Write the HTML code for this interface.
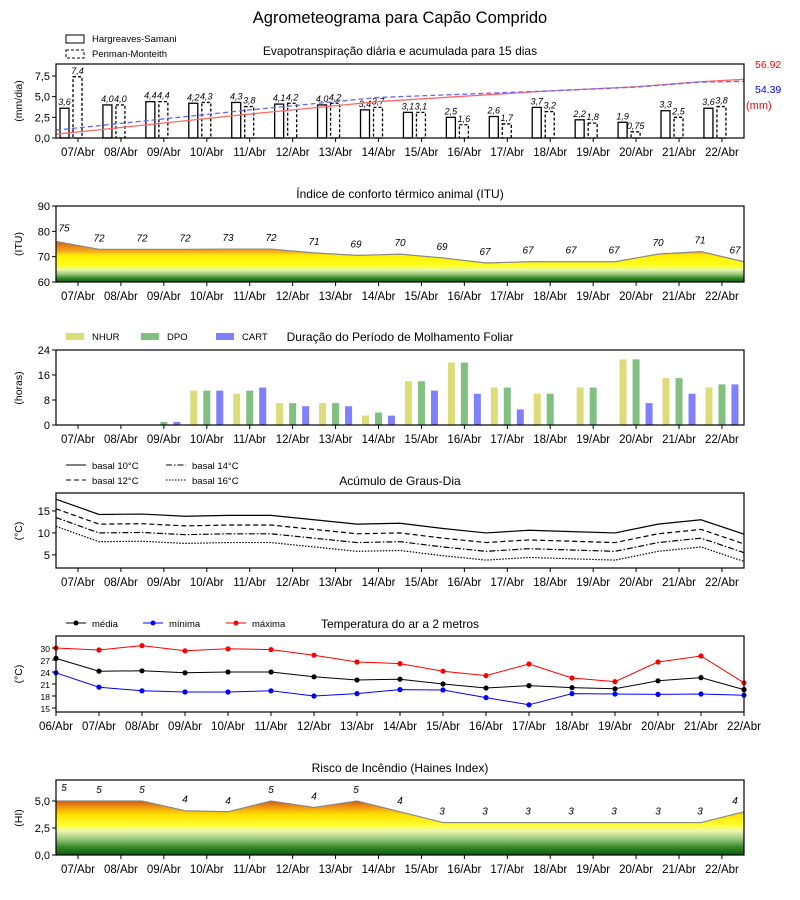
<!DOCTYPE html>
<html><head><meta charset="utf-8"><style>body{margin:0;background:#fff}svg{display:block;font-family:"Liberation Sans","DejaVu Sans",sans-serif}</style></head>
<body><svg id="s" width="800" height="900" xmlns="http://www.w3.org/2000/svg"></svg>
<script>
const S=document.getElementById('s');let h='';
const X0=56,X1=744;
const ticks=[];for(let i=0;i<16;i++)ticks.push(78+i*42.93);
const dates=[];for(let i=7;i<=22;i++)dates.push((i<10?'0':'')+i+'/Abr');
const px=i=>56+43*i;
function t(x,y,s,o={}){h+=`<text x="${x}" y="${y}" font-size="${o.fs||11}" text-anchor="${o.a||'middle'}" fill="${o.c||'#000'}" ${o.it?'font-style="italic"':''} ${o.tr?`transform="${o.tr}"`:''}>${s}</text>`;}
function frame(y0,y1){h+=`<rect x="${X0}" y="${y0}" width="${X1-X0}" height="${y1-y0}" fill="none" stroke="#000" stroke-width="1.2"/>`;}
function xt(y1,pos,labs){pos.forEach((x,i)=>{h+=`<line x1="${x}" y1="${y1}" x2="${x}" y2="${y1+4}" stroke="#000"/>`;t(x,y1+18,labs[i],{fs:11.5});});}
function yt(y0,y1,v0,v1,vals,fmt,fs){vals.forEach(v=>{const y=y1-(v-v0)/(v1-v0)*(y1-y0);h+=`<line x1="${X0-4}" y1="${y}" x2="${X0}" y2="${y}" stroke="#000"/>`;t(X0-6,y+4,fmt(v),{a:'end',fs:fs||11});});}
function yl(y,s){t(22,y,s,{fs:10.5,tr:`rotate(-90 22 ${y})`});}
function poly(pts,st){return `<polyline points="${pts.map(p=>p.join(',')).join(' ')}" fill="none" ${st}/>`;}
t(400,23,'Agrometeograma para Capão Comprido',{fs:16.5});
// Panel 1
{const y0=64,y1=138,vm=8.95,Y=v=>y1-v/vm*(y1-y0);
const hs=[3.6,4.0,4.4,4.2,4.3,4.1,4.0,3.4,3.1,2.5,2.6,3.7,2.2,1.9,3.3,3.6],pm=[7.4,4.0,4.4,4.3,3.8,4.2,4.2,3.7,3.1,1.6,1.7,3.2,1.8,0.75,2.5,3.8];
const f=v=>String(v).replace('.',',');
t(400,55,'Evapotranspiração diária e acumulada para 15 dias',{fs:12});
ticks.forEach((x,i)=>{h+=`<rect x="${x-18}" y="${Y(hs[i])}" width="9" height="${y1-Y(hs[i])}" fill="#fff" stroke="#000" stroke-width="1.3"/>`;
h+=`<rect x="${x-5}" y="${Y(pm[i])}" width="9" height="${y1-Y(pm[i])}" fill="#fff" stroke="#000" stroke-width="1.3" stroke-dasharray="3,2"/>`;
t(x-13.5,Y(hs[i])-3,f(hs[i].toFixed(1)),{fs:9,it:1});t(x-0.5,Y(pm[i])-3,f(pm[i]==0.75?'0.75':pm[i].toFixed(1)),{fs:9,it:1});});
const r=[[56,0.45],[250,2.9],[378,4.4],[550,5.7],[636,6.2],[700,6.8],[744,7.1]].map(p=>[p[0],Y(p[1])]);
const b=[[56,0.95],[250,3.4],[378,4.9],[550,5.7],[636,6.15],[700,6.75],[744,6.85]].map(p=>[p[0],Y(p[1])]);
h+=poly(r,'stroke="#f66" stroke-width="1.3"');h+=poly(b,'stroke="#66f" stroke-width="1.3" stroke-dasharray="5,3"');
frame(y0,y1);xt(y1,ticks,dates);yt(y0,y1,0,vm,[0,2.5,5,7.5],v=>v.toFixed(1).replace('.',','),11);yl(101,'(mm/dia)');
t(755,68,'56.92',{a:'start',c:'#f00',fs:10.5});t(755,93,'54.39',{a:'start',c:'#00f',fs:10.5});t(746,109,'(mm)',{a:'start',c:'#f00',fs:11});
h+=`<rect x="66" y="35" width="18" height="8" fill="#fff" stroke="#000"/>`;t(92,42,'Hargreaves-Samani',{a:'start',fs:9.5});
h+=`<rect x="66" y="50" width="18" height="8" fill="#fff" stroke="#000" stroke-dasharray="3,2"/>`;t(92,57,'Penman-Monteith',{a:'start',fs:9.5});}
// Panel 2
{const y0=206,y1=282,Y=v=>y1-(v-60)/30*(y1-y0);
const v=[76,72.9,72.9,72.9,73,73,71.5,70.5,71,69.5,67.5,68,68,68,71,72,68],lab=[75,72,72,72,73,72,71,69,70,69,67,67,67,67,70,71,67];
const lx=[64,99,142,185,228,271,314,356,400,442,485,528,571,614,658,700,735];
t(400,198,'Índice de conforto térmico animal (ITU)',{fs:12});
h+=`<defs><linearGradient id="g1" gradientUnits="userSpaceOnUse" x1="0" y1="${y1}" x2="0" y2="${Y(76)}">
<stop offset="0" stop-color="#0b5a0b"/><stop offset="0.1" stop-color="#3a8a2a"/><stop offset="0.2" stop-color="#9ccc80"/><stop offset="0.3" stop-color="#e6f6b0"/><stop offset="0.4" stop-color="#ffff20"/><stop offset="0.66" stop-color="#ffee00"/><stop offset="0.74" stop-color="#f8b020"/><stop offset="1" stop-color="#d86010"/></linearGradient>
<linearGradient id="g2" gradientUnits="userSpaceOnUse" x1="0" y1="855" x2="0" y2="801">
<stop offset="0" stop-color="#0b5a0b"/><stop offset="0.15" stop-color="#3a8a2a"/><stop offset="0.3" stop-color="#9ccc80"/><stop offset="0.45" stop-color="#eef8b0"/><stop offset="0.55" stop-color="#ffff30"/><stop offset="0.75" stop-color="#ffe000"/><stop offset="0.9" stop-color="#f09010"/><stop offset="1" stop-color="#c85a10"/></linearGradient></defs>`;
const pts=v.map((a,i)=>[px(i),Y(a)]);
h+=`<polygon points="${X0},${y1} ${pts.map(p=>p.join(',')).join(' ')} ${X1},${y1}" fill="url(#g1)"/>`;
h+=poly(pts,'stroke="#888" stroke-width="1.2"');
lab.forEach((l,i)=>t(lx[i],Y(v[i])-(i==0?-4:8)+(i==0?-14:0),l,{fs:10,it:1}));
frame(y0,y1);xt(y1,ticks,dates);yt(y0,y1,60,90,[60,70,80,90],v=>v);yl(244,'(ITU)');}
// Panel 3
{const y0=350,y1=425,Y=v=>y1-v/24*(y1-y0);
const d=[[0,0,0],[0,0,0],[0,1,1],[11,11,11],[10,11,12],[7,7,6],[7,7,6],[3,4,3],[14,14,11],[20,20,10],[12,12,5],[10,10,0],[12,12,0],[21,21,7],[15,15,10],[12,13,13]];
const c=['#dcdc78','#80c080','#8080ff'];
t(400,341,'Duração do Período de Molhamento Foliar',{fs:12});
ticks.forEach((x,i)=>d[i].forEach((v,k)=>{if(v>0)h+=`<rect x="${x-16.5+13*k}" y="${Y(v)}" width="7" height="${y1-Y(v)}" fill="${c[k]}"/>`;}));
frame(y0,y1);xt(y1,ticks,dates);yt(y0,y1,0,24,[0,8,16,24],v=>v);yl(388,'(horas)');
['NHUR','DPO','CART'].forEach((s,k)=>{const x=66+75*k;h+=`<rect x="${x}" y="333" width="18" height="7" fill="${c[k]}"/>`;t(x+26,340,s,{a:'start',fs:9.5});});}
// Panel 4
{const y0=493,y1=568,Y=v=>y1-(v-2)/17.1*(y1-y0);
const b=[17.7,14.2,14.3,13.8,14.0,14.0,13.0,12.0,12.2,11.0,10.0,10.6,10.3,10.0,12.0,13.0,9.7];
const off=[0,2.2,4.2,6.2],st=['','stroke-dasharray="5,3"','stroke-dasharray="6,2,1.5,2"','stroke-dasharray="1.5,1.5"'];
t(400,485,'Acúmulo de Graus-Dia',{fs:12});
off.forEach((o,k)=>h+=poly(b.map((v,i)=>[px(i),Y(v-o)]),'stroke="#000" stroke-width="1.2" '+st[k]));
frame(y0,y1);xt(y1,ticks,dates);yt(y0,y1,2,19.1,[5,10,15],v=>v);yl(531,'(°C)');
const L=[['basal 10°C',66,469,0],['basal 12°C',66,484,1],['basal 14°C',166,469,2],['basal 16°C',166,484,3]];
L.forEach(l=>{h+=`<line x1="${l[1]}" y1="${l[2]-4}" x2="${l[1]+20}" y2="${l[2]-4}" stroke="#000" ${st[l[3]]}/>`;t(l[1]+26,l[2],l[0],{a:'start',fs:9.5});});}
// Panel 5
{const y0=636,y1=712,Y=v=>y1-(v-14)/19*(y1-y0);
const mx=[30,29.5,30.6,29.3,29.8,29.6,28.2,26.5,26.1,24.2,23.1,26.0,22.5,21.6,26.5,28.0,21.3];
const md=[27.4,24.2,24.3,23.8,24,24,22.8,22,22.2,21,20,20.6,20.1,19.8,21.8,22.6,19.6];
const mn=[23.8,20.2,19.3,19,19,19.3,18,18.6,19.6,19.5,17.6,15.8,18.6,18.5,18.4,18.5,18.2];
t(400,628,'Temperatura do ar a 2 metros',{fs:12});
[[md,'#000'],[mn,'#00f'],[mx,'#f00']].forEach(([a,c])=>{h+=poly(a.map((v,i)=>[px(i),Y(v)]),`stroke="${c}" stroke-width="1"`);a.forEach((v,i)=>h+=`<circle cx="${px(i)}" cy="${Y(v)}" r="2.6" fill="${c}"/>`);});
frame(y0,y1);const p=[];for(let i=0;i<=16;i++)p.push(px(i));const dl=['06/Abr'].concat(dates);xt(y1,p,dl);
yt(y0,y1,14,33,[15,18,21,24,27,30],v=>v,8.5);yl(674,'(°C)');
[['média','#000',66],['mínima','#00f',143],['máxima','#f00',226]].forEach(l=>{h+=`<line x1="${l[2]}" y1="623" x2="${l[2]+20}" y2="623" stroke="${l[1]}"/><circle cx="${l[2]+10}" cy="623" r="2.5" fill="${l[1]}"/>`;t(l[2]+26,627,l[0],{a:'start',fs:9.5});});}
// Panel 6
{const y0=780,y1=855,Y=v=>y1-v/6.94*(y1-y0);
const v=[5,5,5,4.1,4,5,4.4,5,4,3,3,3,3,3,3,3,4],lab=[5,5,5,4,4,5,4,5,4,3,3,3,3,3,3,3,4];
const lx=[64,99,142,185,228,271,314,356,400,442,485,528,571,614,658,700,735];
t(400,772,'Risco de Incêndio (Haines Index)',{fs:12});
const pts=v.map((a,i)=>[px(i),Y(a)]);
h+=`<polygon points="${X0},${y1} ${pts.map(p=>p.join(',')).join(' ')} ${X1},${y1}" fill="url(#g2)"/>`;
h+=poly(pts,'stroke="#888" stroke-width="1.2"');
lab.forEach((l,i)=>t(lx[i],Y(v[i])-(i==0?-4:8)+(i==0?-14:0),l,{fs:10,it:1}));
frame(y0,y1);xt(y1,ticks,dates);yt(y0,y1,0,6.94,[0,2.5,5],v=>v.toFixed(1).replace('.',','));yl(818,'(HI)');}
S.innerHTML=h;
</script></body></html>
